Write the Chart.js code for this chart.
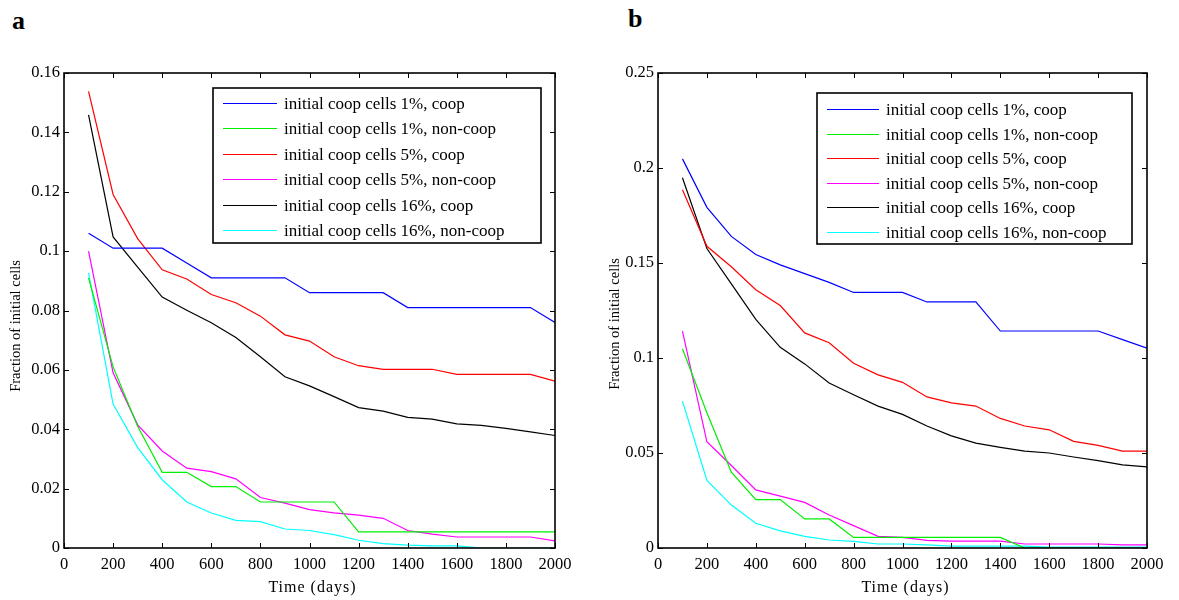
<!DOCTYPE html>
<html>
<head>
<meta charset="utf-8">
<script src="https://cdn.jsdelivr.net/npm/chart.js@4/dist/chart.umd.min.js"></script>
<style>
  body { margin: 0; background: #fff; width: 1179px; height: 600px; overflow: hidden; position: relative; font-family: "Liberation Serif", "Times New Roman", serif; }
  .panel-letter { position: absolute; font-weight: bold; font-size: 26px; line-height: 1; }
  .chart-box { position: absolute; }
</style>
</head>
<body>
<div class="panel-letter" style="left:12px;top:8px">a</div>
<div class="panel-letter" style="left:628px;top:6px">b</div>
<div class="chart-box" style="left:0;top:40px;width:580px;height:560px"><canvas id="chartA"></canvas></div>
<div class="chart-box" style="left:595px;top:40px;width:584px;height:560px"><canvas id="chartB"></canvas></div>

<script>
// ---- data ----
const days = [100, 200, 300, 400, 500, 600, 700, 800, 900, 1000, 1100, 1200, 1300, 1400, 1500, 1600, 1700, 1800, 1900, 2000];

const seriesLabels = [
  'initial coop cells 1%, coop',
  'initial coop cells 1%, non-coop',
  'initial coop cells 5%, coop',
  'initial coop cells 5%, non-coop',
  'initial coop cells 16%, coop',
  'initial coop cells 16%, non-coop'
];
const seriesColors = ['#0000ff', '#00ee00', '#ff0000', '#ff00ff', '#000000', '#00ffff'];

// panel a
const coop1A    = [0.106, 0.101, 0.101, 0.101, 0.096, 0.091, 0.091, 0.091, 0.091, 0.086, 0.086, 0.086, 0.086, 0.081, 0.081, 0.081, 0.081, 0.081, 0.081, 0.076];
const noncoop1A = [0.091, 0.061, 0.041, 0.0255, 0.0255, 0.0207, 0.0207, 0.0155, 0.0155, 0.0155, 0.0155, 0.0054, 0.0054, 0.0054, 0.0054, 0.0054, 0.0054, 0.0054, 0.0054, 0.0054];
const coop5A    = [0.1538, 0.1191, 0.1042, 0.0937, 0.0906, 0.0854, 0.0826, 0.0781, 0.0718, 0.0697, 0.0644, 0.0614, 0.0602, 0.0602, 0.0602, 0.0585, 0.0585, 0.0585, 0.0585, 0.0562];
const noncoop5A = [0.100, 0.059, 0.0415, 0.0327, 0.0269, 0.0257, 0.0233, 0.017, 0.0151, 0.0129, 0.0118, 0.0111, 0.010, 0.0059, 0.0047, 0.0037, 0.0037, 0.0037, 0.0037, 0.0024];
const coop16A   = [0.1459, 0.1048, 0.0946, 0.0845, 0.0801, 0.0759, 0.0709, 0.0644, 0.0577, 0.0546, 0.051, 0.0473, 0.0461, 0.044, 0.0434, 0.0418, 0.0413, 0.0403, 0.0391, 0.0379];
const noncoop16A = [0.0927, 0.0485, 0.0338, 0.023, 0.0155, 0.0118, 0.0093, 0.0089, 0.0064, 0.0059, 0.0045, 0.0026, 0.0015, 0.001, 0.0007, 0.0007, 0, 0, 0, 0];

// panel b
const coop1B    = [0.2048, 0.1793, 0.164, 0.1545, 0.149, 0.1444, 0.1398, 0.1345, 0.1345, 0.1345, 0.1295, 0.1295, 0.1295, 0.1142, 0.1142, 0.1142, 0.1142, 0.1142, 0.1097, 0.1052];
const noncoop1B = [0.1049, 0.0712, 0.0399, 0.0255, 0.0255, 0.0153, 0.0153, 0.0056, 0.0056, 0.0056, 0.0056, 0.0056, 0.0056, 0.0056, 0, 0, 0, 0, 0, 0];
const coop5B    = [0.1885, 0.1588, 0.148, 0.1359, 0.1276, 0.1132, 0.108, 0.0972, 0.0911, 0.0872, 0.0795, 0.0764, 0.0747, 0.0682, 0.0642, 0.0622, 0.0561, 0.054, 0.051, 0.051];
const noncoop5B = [0.1141, 0.0559, 0.0434, 0.0306, 0.0273, 0.024, 0.0174, 0.0118, 0.0061, 0.0056, 0.004, 0.0036, 0.0036, 0.0036, 0.0021, 0.0021, 0.0021, 0.0021, 0.0016, 0.0016];
const coop16B   = [0.1949, 0.1576, 0.139, 0.1203, 0.1056, 0.0969, 0.0868, 0.0807, 0.0747, 0.0703, 0.0642, 0.059, 0.0552, 0.053, 0.051, 0.05, 0.0479, 0.046, 0.0438, 0.0427];
const noncoop16B = [0.0773, 0.0356, 0.0226, 0.013, 0.009, 0.0061, 0.0042, 0.0035, 0.0021, 0.0021, 0.0016, 0.001, 0.001, 0.001, 0.001, 0.0005, 0.0005, 0.0005, 0.0005, 0.0005];

const xTicks = [0, 200, 400, 600, 800, 1000, 1200, 1400, 1600, 1800, 2000];
const yTicksA = [0, 0.02, 0.04, 0.06, 0.08, 0.1, 0.12, 0.14, 0.16];
const yTicksB = [0, 0.05, 0.1, 0.15, 0.2, 0.25];

const xTitle = 'Time (days)';
const yTitle = 'Fraction of initial cells';

const FONT = '"Liberation Serif", "Times New Roman", serif';

// box around the axes with inward ticks on all four sides (matlab look), plus axis titles
const matlabFrame = {
  id: 'matlabFrame',
  afterDatasetsDraw(chart, args, o) {
    const { ctx, chartArea: a, scales: { x, y } } = chart;
    const len = 5;
    ctx.save();
    ctx.strokeStyle = '#000';
    ctx.lineWidth = 1;
    ctx.beginPath();
    x.ticks.forEach(t => {
      const px = Math.round(x.getPixelForValue(t.value)) + 0.5;
      ctx.moveTo(px, a.bottom); ctx.lineTo(px, a.bottom - len);
      ctx.moveTo(px, a.top); ctx.lineTo(px, a.top + len);
    });
    y.ticks.forEach(t => {
      const py = Math.round(y.getPixelForValue(t.value)) + 0.5;
      ctx.moveTo(a.left, py); ctx.lineTo(a.left + len, py);
      ctx.moveTo(a.right, py); ctx.lineTo(a.right - len, py);
    });
    ctx.stroke();
    ctx.lineWidth = 1.6;
    ctx.strokeRect(a.left, a.top, a.right - a.left, a.bottom - a.top);

    // axis titles
    ctx.fillStyle = '#000';
    ctx.textAlign = 'center';
    ctx.textBaseline = 'middle';
    ctx.font = '16px ' + FONT;
    ctx.letterSpacing = '1px';
    ctx.fillText(xTitle, (a.left + a.right) / 2 + 3, o.xTitleY);
    ctx.letterSpacing = '0px';
    ctx.font = '14.5px ' + FONT;
    ctx.translate(o.yTitleX, o.yTitleY);
    ctx.rotate(-Math.PI / 2);
    ctx.fillText(yTitle, 0, 0);
    ctx.restore();
  }
};

// legend drawn inside the plot, in a framed box
const boxLegend = {
  id: 'boxLegend',
  afterDraw(chart, args, o) {
    const { ctx } = chart;
    ctx.save();
    ctx.fillStyle = '#fff';
    ctx.fillRect(o.left, o.top, o.width, o.height);
    ctx.strokeStyle = '#000';
    ctx.lineWidth = 1.6;
    ctx.strokeRect(o.left, o.top, o.width, o.height);
    ctx.font = o.fontSize + 'px ' + FONT;
    ctx.textBaseline = 'middle';
    chart.data.datasets.forEach((ds, i) => {
      const cy = Math.round(o.firstRow + i * o.rowH) + 0.5;
      ctx.strokeStyle = ds.borderColor;
      ctx.lineWidth = 1.2;
      ctx.beginPath();
      ctx.moveTo(o.lineX0, cy); ctx.lineTo(o.lineX1, cy);
      ctx.stroke();
      ctx.fillStyle = '#000';
      ctx.fillText(ds.label, o.textX, cy + 1);
    });
    ctx.restore();
  }
};

function makeDatasets(list) {
  return list.map((vals, i) => ({
    label: seriesLabels[i],
    data: days.map((d, j) => ({ x: d, y: vals[j] })),
    borderColor: seriesColors[i],
    backgroundColor: seriesColors[i],
    borderWidth: 1.2,
    pointRadius: 0,
    tension: 0,
    fill: false
  }));
}

function makeChart(id, list, yMax, yTicks, legendOpts, frameOpts, pad) {
  return new Chart(document.getElementById(id), {
    type: 'line',
    data: { datasets: makeDatasets(list) },
    plugins: [matlabFrame, boxLegend],
    options: {
      responsive: true,
      maintainAspectRatio: false,
      animation: false,
      layout: { padding: pad },
      plugins: {
        legend: { display: false },
        tooltip: { enabled: false },
        boxLegend: legendOpts,
        matlabFrame: frameOpts
      },
      scales: {
        x: {
          type: 'linear', min: 0, max: 2000,
          afterBuildTicks: s => { s.ticks = xTicks.map(v => ({ value: v })); },
          afterFit: s => { s.height = 52; },
          grid: { display: false, drawTicks: false },
          border: { display: false },
          ticks: { color: '#000', font: { family: FONT, size: 16.5 }, padding: 7, maxRotation: 0, autoSkip: false,
                   callback: v => String(v) }
        },
        y: {
          type: 'linear', min: 0, max: yMax,
          afterBuildTicks: s => { s.ticks = yTicks.map(v => ({ value: v })); },
          afterFit: s => { s.width = pad.yWidth; },
          grid: { display: false, drawTicks: false },
          border: { display: false },
          ticks: { color: '#000', font: { family: FONT, size: 16.5 }, padding: 4,
                   callback: v => String(parseFloat(v.toFixed(4))) }
        }
      }
    }
  });
}

makeChart('chartA', [coop1A, noncoop1A, coop5A, noncoop5A, coop16A, noncoop16A], 0.16, yTicksA,
  { left: 213, top: 48, width: 328, height: 155, firstRow: 62.7, rowH: 25.5, lineX0: 223, lineX1: 277, textX: 284, fontSize: 17 },
  { xTitleY: 548, yTitleX: 16, yTitleY: 286 },
  { left: 0, right: 25, top: 33, bottom: 0, yWidth: 64 });

makeChart('chartB', [coop1B, noncoop1B, coop5B, noncoop5B, coop16B, noncoop16B], 0.25, yTicksB,
  { left: 222, top: 53, width: 315, height: 151, firstRow: 69.3, rowH: 24.5, lineX0: 232, lineX1: 284, textX: 291, fontSize: 17 },
  { xTitleY: 548, yTitleX: 20, yTitleY: 284 },
  { left: 0, right: 32, top: 33, bottom: 0, yWidth: 63 });
</script>
</body>
</html>
